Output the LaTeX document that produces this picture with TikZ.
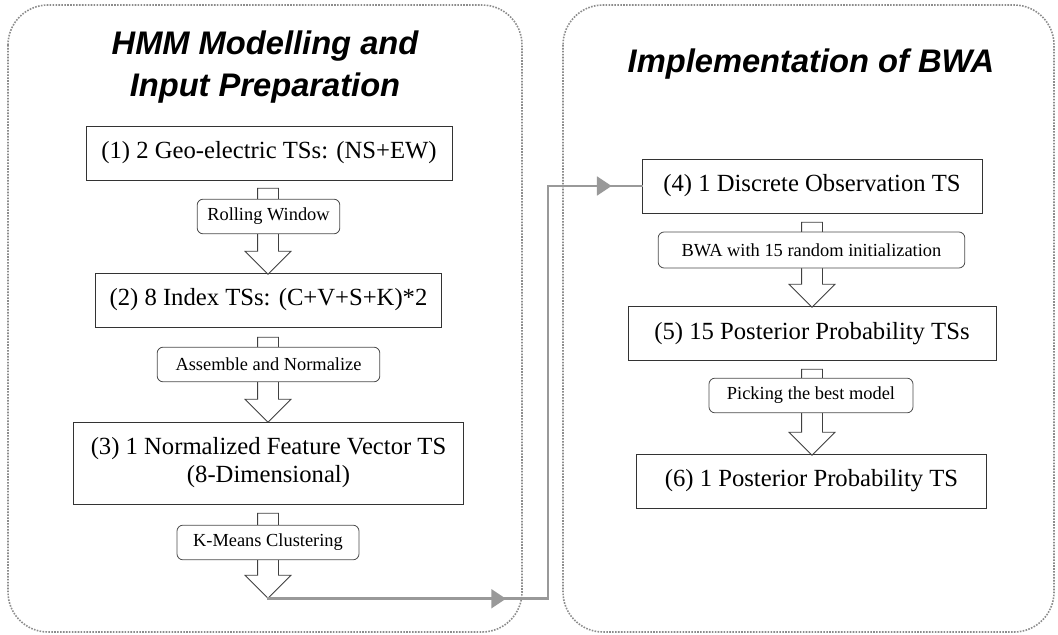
\documentclass[tikz,border=0pt]{standalone}
\usepackage{fontspec}
\setmainfont{Liberation Serif}
\setsansfont{Liberation Sans}
\usetikzlibrary{shapes.arrows,arrows.meta,decorations.markings}

\tikzset{
  panel/.style={draw=black!45, densely dotted, line width=1.2pt, rounded corners=30pt},
  title/.style={font=\sffamily\bfseries\itshape\fontsize{24.5}{31.5}\selectfont, align=center, inner sep=0pt},
  tsbox/.style={draw=black!80, line width=0.7pt, font=\fontsize{18.5}{21}\selectfont, align=center, minimum height=40.5pt, inner sep=0pt},
  opbox/.style={draw=black!70, line width=0.6pt, rounded corners=4.5pt, fill=white, font=\fontsize{13.8}{16}\selectfont, minimum height=26pt, inner sep=0pt},
  hollow/.style={single arrow, draw=black!75, fill=white, line width=0.6pt, rotate=-90, single arrow head extend=9.4pt, inner xsep=0pt, inner ysep=7.5pt},
  link/.style={color=black!40, line width=2.2pt, line cap=rect},
  midtip/.style={postaction={decorate}, decoration={markings, mark=at position #1 with {\arrow{Triangle[length=11pt,width=14pt]}}}}
}

\begin{document}
\begin{tikzpicture}[x=0.75pt,y=-0.75pt]
                \useasboundingbox (0,0) rectangle (1058,635);
                \draw[panel] (8,5) rectangle (522,632);
                \draw[panel] (563,5) rectangle (1054,632);
                \node[title] (hmmtitle) at (265,67) {HMM Modelling and\\Input Preparation};
                \node[title, anchor=base] (bwatitle) at (811,73) {Implementation of BWA};
                \node[tsbox, minimum width=274.5pt] (ts1) at (269,153) {(1) 2 Geo-electric TSs: (NS+EW)};
                \node[tsbox, minimum width=260pt] (ts2) at (268.5,300) {(2) 8 Index TSs: (C+V+S+K)*2};
                \node[tsbox, minimum width=293pt, minimum height=61.5pt] (ts3) at (268.5,463) {(3) 1 Normalized Feature Vector TS\\(8-Dimensional)};
                \node[tsbox, minimum width=255pt] (ts4) at (812,186) {(4) 1 Discrete Observation TS};
                \node[tsbox, minimum width=276pt, minimum height=41pt] (ts5) at (812,333.5) {(5) 15 Posterior Probability TSs};
                \node[tsbox, minimum width=262pt] (ts6) at (811.5,481) {(6) 1 Posterior Probability TS};
                \node[hollow, minimum height=64.5pt] (ar1) at (268,226) {};
                \node[hollow, minimum height=63.75pt] (ar2) at (268,374.5) {};
                \node[hollow, minimum height=63.75pt] (ar3) at (268,550.5) {};
                \node[hollow, minimum height=63.75pt] (ar4) at (812,259.5) {};
                \node[hollow, minimum height=64.5pt] (ar5) at (812,407) {};
                \node[opbox, minimum width=107pt] (op1) at (268.5,216.5) {Rolling Window};
                \node[opbox, minimum width=167pt] (op2) at (268.5,364.5) {Assemble and Normalize};
                \node[opbox, minimum width=136.5pt] (op3) at (268,542.5) {K-Means Clustering};
                \node[opbox, minimum width=230pt, minimum height=27pt] (op4) at (811.5,250) {BWA with 15 random initialization};
                \node[opbox, minimum width=153pt] (op5) at (811,395.5) {Picking the best model};
                \coordinate (rail) at (548,0);
                \coordinate (turn1) at (ar3.tip -| rail);
                \coordinate (turn2) at (rail |- ts4.west);
                \draw[link, midtip=0.85] (ar3.tip) -- (turn1);
                \draw[link] (turn1) -- (turn2);
                \draw[link, midtip=0.68] (turn2) -- (ts4.west);
\end{tikzpicture}
\end{document}
